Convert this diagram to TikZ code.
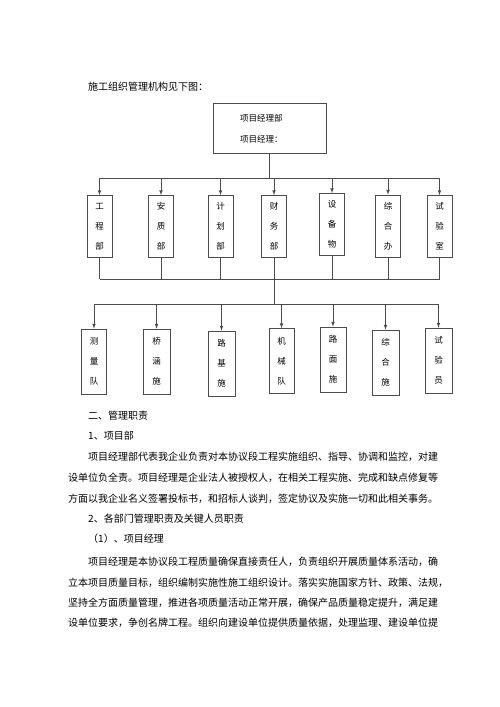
\documentclass[tikz,border=0pt]{standalone}
\usepackage{fontspec}
\setmainfont{Noto Sans CJK SC}
\usepackage{tikz}
\usetikzlibrary{arrows,positioning,calc}

\begin{document}
\begin{tikzpicture}[x=1pt,y=-1pt,
	line/.style={draw=black!70, line width=.7pt},
	arr/.style={line, -latex},
	dept/.style={line, minimum width=25pt, minimum height=62pt, inner sep=0pt, align=center, font=\fontsize{8.5}{20}\selectfont},
	txt/.style={anchor=west, inner sep=0pt, font=\fontsize{10}{12}\selectfont}]
	\useasboundingbox[fill=white] (0,0) rectangle (500,707);
	%title
	\node[txt](title) at (88,87){施工组织管理机构见下图：};
	%top box
	\node[line, minimum width=113pt, minimum height=50pt, inner sep=0pt](pm) at (269.5,128){};
	\node[txt, font=\fontsize{8.5}{10}\selectfont](pmA) at (240,118){项目经理部};
	\node[txt, font=\fontsize{8.5}{10}\selectfont](pmB) at (240,139){项目经理：};
	%departments
	\node[dept](d1) at (99.5,226.5){工\\程\\部};
	\node[dept](d2) at (161,226.5){安\\质\\部};
	\node[dept](d3) at (220.5,226.5){计\\划\\部};
	\node[dept](d4) at (274,226.5){财\\务\\部};
	\node[dept](d5) at (332,224.5){设\\备\\物};
	\node[dept](d6) at (388,226){综\\合\\办};
	\node[dept](d7) at (439.5,226.5){试\\验\\室};
	%teams
	\node[dept, minimum height=65pt](t1) at (94,361.5){测\\量\\队};
	\node[dept, minimum height=65pt, minimum width=27pt](t2) at (156.5,361.5){桥\\涵\\施};
	\node[dept, minimum height=65pt, minimum width=27pt](t3) at (221.5,363.5){路\\基\\施};
	\node[dept, minimum height=65pt](t4) at (281.5,361){机\\械\\队};
	\node[dept, minimum height=65pt, minimum width=26pt](t5) at (333,359.5){路\\面\\施};
	\node[dept, minimum height=65pt, minimum width=27pt](t6) at (385.5,362.5){综\\合\\施};
	\node[dept, minimum height=65pt, minimum width=27pt](t7) at (438.5,360.5){试\\验\\员};
	%bus lines
	\coordinate (busA) at (269.5,178);
	\coordinate (busB) at (274,279);
	\coordinate (busC) at (274,304);
	\draw[line] (pm.south) -- (busA);
	\draw[line] (d1.north |- busA) -- (d7.north |- busA);
	\foreach \n in {1,...,7}{
		\draw[arr] (d\n.north |- busA) -- (d\n.north);
		\draw[line] (d\n.south) -- (d\n.south |- busB);
		\draw[arr] (t\n.north |- busC) -- (t\n.north);
	}
	\draw[line] (d1.south |- busB) -- (d7.south |- busB);
	\draw[line] (busB) -- (busC);
	\draw[line] (t1.north |- busC) -- (t7.north |- busC);
	%text below
	\node[txt](h2) at (88,416){二、管理职责};
	\node[txt](h3) at (88,436){1、项目部};
	\node[txt](pa1) at (88,457){项目经理部代表我企业负责对本协议段工程实施组织、指导、协调和监控，对建};
	\node[txt](pa2) at (68,478){设单位负全责。项目经理是企业法人被授权人，在相关工程实施、完成和缺点修复等};
	\node[txt](pa3) at (68,499){方面以我企业名义签署投标书，和招标人谈判，签定协议及实施一切和此相关事务。};
	\node[txt](h4) at (88,519){2、各部门管理职责及关键人员职责};
	\node[txt](h5) at (88,539){（1）、项目经理};
	\node[txt](pb1) at (88,562){项目经理是本协议段工程质量确保直接责任人，负责组织开展质量体系活动，确};
	\node[txt](pb2) at (68,583){立本项目质量目标，组织编制实施性施工组织设计。落实实施国家方针、政策、法规，};
	\node[txt](pb3) at (68,603){坚持全方面质量管理，推进各项质量活动正常开展，确保产品质量稳定提升，满足建};
	\node[txt](pb4) at (68,623){设单位要求，争创名牌工程。组织向建设单位提供质量依据，处理监理、建设单位提};
\end{tikzpicture}
\end{document}
